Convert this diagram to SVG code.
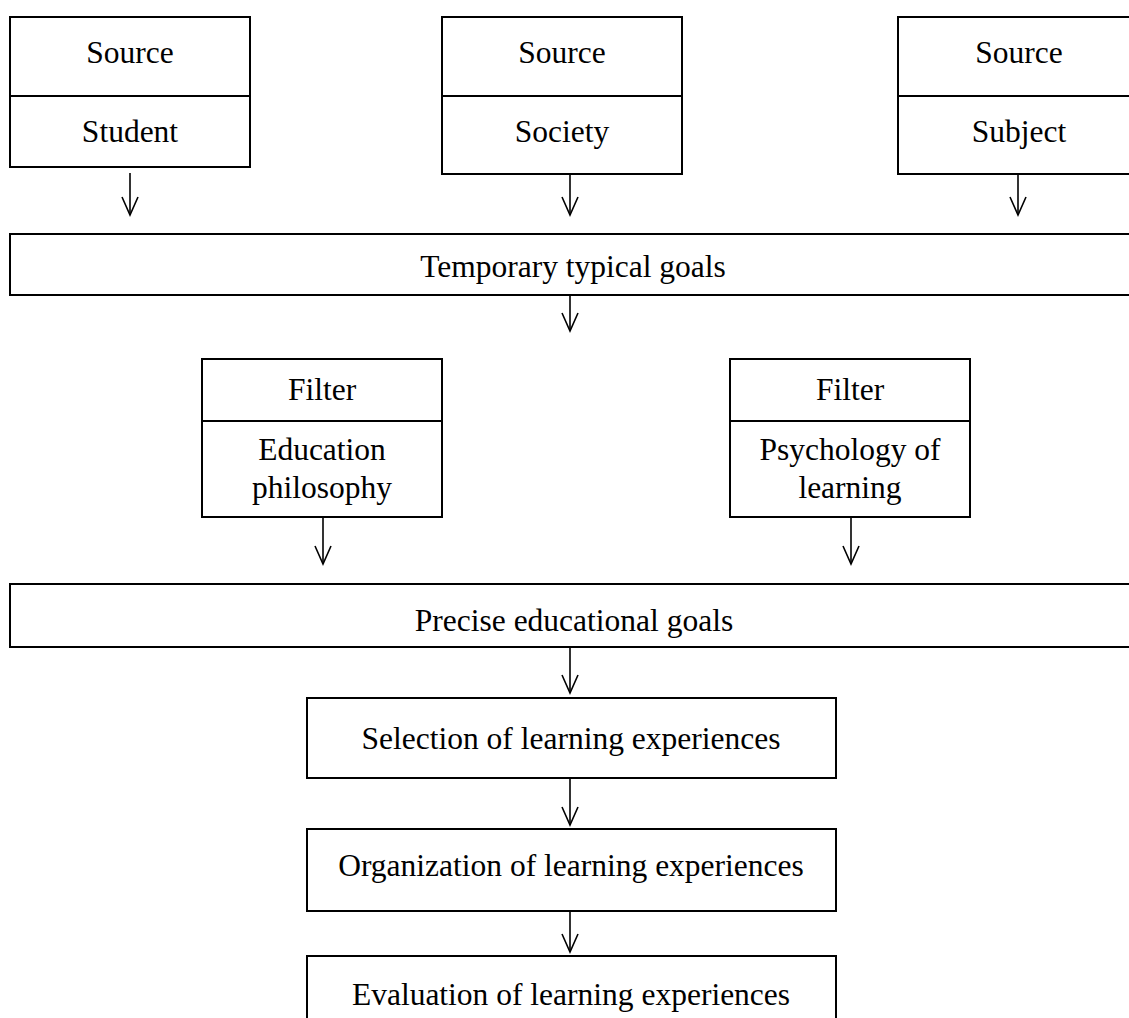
<svg xmlns="http://www.w3.org/2000/svg" width="1129" height="1018" viewBox="0 0 1129 1018">
<style>
.box{fill:#fff;stroke:#000;stroke-width:2}
.div{stroke:#000;stroke-width:2}
.t{font-family:"Liberation Serif","Times New Roman",serif;font-size:31.5px;fill:#000;text-anchor:middle}
.c{stroke:#000;stroke-width:1.6;fill:none}
</style>
<defs>
<marker id="ah" markerUnits="userSpaceOnUse" markerWidth="20" markerHeight="20" refX="0" refY="0" orient="auto" overflow="visible">
<path d="M-18,-8 L0,0 L-18,8" fill="none" stroke="#000" stroke-width="1.6"/>
</marker>
</defs>
<rect width="1129" height="1018" fill="#fff"/>
<g id="src-student">
<rect class="box" x="10" y="17" width="240" height="150"/>
<line class="div" x1="10" y1="96" x2="250" y2="96"/>
<text class="t" x="130" y="63">Source</text>
<text class="t" x="130" y="142">Student</text>
</g>
<g id="src-society">
<rect class="box" x="442" y="17" width="240" height="157"/>
<line class="div" x1="442" y1="96" x2="682" y2="96"/>
<text class="t" x="562" y="63">Source</text>
<text class="t" x="562" y="142">Society</text>
</g>
<g id="src-subject">
<rect class="box" x="898" y="17" width="240" height="157"/>
<line class="div" x1="898" y1="96" x2="1138" y2="96"/>
<text class="t" x="1019" y="63">Source</text>
<text class="t" x="1019" y="142">Subject</text>
</g>
<g id="temporary">
<rect class="box" x="10" y="234" width="1130" height="61"/>
<text class="t" x="573" y="277">Temporary typical goals</text>
</g>
<g id="filter-philosophy">
<rect class="box" x="202" y="359" width="240" height="158"/>
<line class="div" x1="202" y1="421" x2="442" y2="421"/>
<text class="t" x="322" y="400">Filter</text>
<text class="t" x="322" y="460">Education</text>
<text class="t" x="322" y="498">philosophy</text>
</g>
<g id="filter-psychology">
<rect class="box" x="730" y="359" width="240" height="158"/>
<line class="div" x1="730" y1="421" x2="970" y2="421"/>
<text class="t" x="850" y="400">Filter</text>
<text class="t" x="850" y="460">Psychology of</text>
<text class="t" x="850" y="498">learning</text>
</g>
<g id="precise">
<rect class="box" x="10" y="584" width="1130" height="63"/>
<text class="t" x="574" y="631">Precise educational goals</text>
</g>
<g id="selection">
<rect class="box" x="307" y="698" width="529" height="80"/>
<text class="t" x="571" y="749">Selection of learning experiences</text>
</g>
<g id="organization">
<rect class="box" x="307" y="829" width="529" height="82"/>
<text class="t" x="571" y="876">Organization of learning experiences</text>
</g>
<g id="evaluation">
<rect class="box" x="307" y="956" width="529" height="80"/>
<text class="t" x="571" y="1005">Evaluation of learning experiences</text>
</g>
<g id="connectors">
<line class="c" x1="130" y1="173" x2="130" y2="215" marker-end="url(#ah)"/>
<line class="c" x1="570" y1="174" x2="570" y2="215" marker-end="url(#ah)"/>
<line class="c" x1="1018" y1="174" x2="1018" y2="215" marker-end="url(#ah)"/>
<line class="c" x1="570" y1="295" x2="570" y2="331" marker-end="url(#ah)"/>
<line class="c" x1="323" y1="517" x2="323" y2="564" marker-end="url(#ah)"/>
<line class="c" x1="851" y1="517" x2="851" y2="564" marker-end="url(#ah)"/>
<line class="c" x1="570" y1="647" x2="570" y2="693" marker-end="url(#ah)"/>
<line class="c" x1="570" y1="778" x2="570" y2="825" marker-end="url(#ah)"/>
<line class="c" x1="570" y1="911" x2="570" y2="952" marker-end="url(#ah)"/>
</g>
</svg>
